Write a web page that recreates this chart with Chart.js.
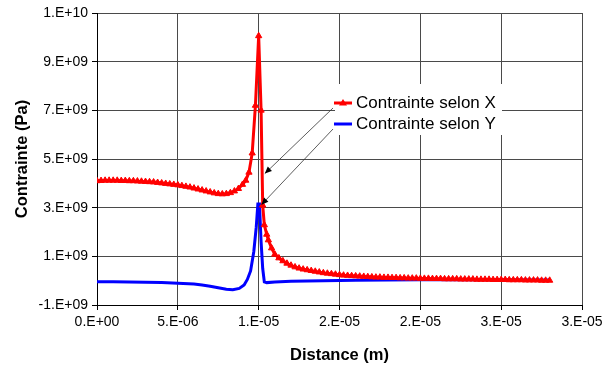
<!DOCTYPE html>
<html>
<head>
<meta charset="utf-8">
<script src="https://cdn.jsdelivr.net/npm/chart.js@4/dist/chart.umd.min.js"></script>
<style>
html,body{margin:0;padding:0;background:#fff;}
#wrap{width:616px;height:369px;}
</style>
</head>
<body>
<div id="wrap"><canvas id="c" width="616" height="369"></canvas></div>
<script>
// ---- Data (distance in micrometres, stress in GPa) ----
const distanceX_um = [0,0.25,0.5,0.75,1,1.25,1.5,1.75,2,2.25,2.5,2.75,3,3.25,3.5,3.75,4,4.25,4.5,4.75,5,5.25,5.5,5.75,6,6.25,6.5,6.75,7,7.25,7.5,7.75,8,8.25,8.5,8.75,9,9.2,9.4,9.6,9.8,10,10.15,10.25,10.35,10.5,10.6,10.8,11,11.25,11.5,11.75,12,12.25,12.5,12.75,13,13.25,13.5,13.75,14,14.25,14.5,14.75,15,15.25,15.5,15.75,16,16.25,16.5,16.75,17,17.25,17.5,17.75,18,18.25,18.5,18.75,19,19.25,19.5,19.75,20,20.25,20.5,20.75,21,21.25,21.5,21.75,22,22.25,22.5,22.75,23,23.25,23.5,23.75,24,24.25,24.5,24.75,25,25.25,25.5,25.75,26,26.25,26.5,26.75,27,27.25,27.5,27.75,28];
const contrainteX_GPa = [4.10,4.11,4.12,4.12,4.12,4.12,4.11,4.11,4.10,4.10,4.09,4.08,4.07,4.06,4.05,4.03,4.01,3.99,3.97,3.95,3.93,3.90,3.87,3.84,3.80,3.76,3.72,3.68,3.64,3.60,3.57,3.56,3.57,3.61,3.68,3.78,3.95,4.12,4.45,5.24,7.20,10.06,7.00,3.10,2.29,1.90,1.67,1.34,1.08,0.93,0.81,0.71,0.63,0.56,0.51,0.47,0.44,0.41,0.38,0.35,0.32,0.30,0.28,0.26,0.24,0.22,0.21,0.20,0.19,0.18,0.17,0.16,0.15,0.14,0.14,0.13,0.13,0.12,0.12,0.11,0.11,0.10,0.10,0.10,0.09,0.09,0.09,0.08,0.08,0.08,0.07,0.07,0.07,0.07,0.06,0.06,0.06,0.06,0.05,0.05,0.05,0.05,0.04,0.04,0.04,0.04,0.03,0.03,0.03,0.03,0.02,0.02,0.02,0.02,0.01,0.01,0.01];

const distanceY_um = [0,1,2,3,4,5,6,6.5,7,7.5,8,8.4,8.8,9.1,9.3,9.5,9.7,9.85,9.95,10.05,10.15,10.25,10.35,10.5,11,12,14,16,18,20,24,28];
const contrainteY_GPa = [-0.04,-0.04,-0.05,-0.06,-0.08,-0.11,-0.14,-0.18,-0.23,-0.29,-0.35,-0.37,-0.32,-0.18,0.05,0.40,1.20,2.20,3.15,3.15,1.60,0.50,-0.05,-0.08,-0.05,-0.02,0.00,0.02,0.03,0.04,0.04,0.03];

const seriesNames = ['Contrainte selon X','Contrainte selon Y'];

// axis ticks
const xTickValues = [0,5e-6,1e-5,1.5e-5,2e-5,2.5e-5,3e-5];
const xTickLabels = ['0.E+00','5.E-06','1.E-05','2.E-05','2.E-05','3.E-05','3.E-05'];
const yTickValues = [-1e9,1e9,3e9,5e9,7e9,9e9,1.1e10];
const yTickLabels = ['-1.E+09','1.E+09','3.E+09','5.E+09','7.E+09','9.E+09','1.E+10'];

// annotation arrows: target points (um, GPa)
const arrowTargetX_um = [10.38,10.17];
const arrowTargetY_GPa = [4.40,3.12];

const FONT = '"Liberation Sans", Arial, sans-serif';

const legendArrowPlugin = {
  id:'legendArrows',
  afterDatasetsDraw(chart){
    const ctx = chart.ctx;
    const xs = chart.scales.x, ys = chart.scales.y;
    // legend box
    const lx = 335, ly = 84, lw = 167, lh = 51;
    ctx.save();
    ctx.fillStyle = '#fff';
    ctx.fillRect(lx, ly, lw, lh);
    const rows = [103, 124];
    const colors = ['#ff0000','#0000ff'];
    ctx.font = '17px ' + FONT;
    ctx.textBaseline = 'middle';
    rows.forEach((y,i)=>{
      ctx.strokeStyle = colors[i];
      ctx.lineWidth = 3;
      ctx.beginPath(); ctx.moveTo(334,y); ctx.lineTo(352,y); ctx.stroke();
      if(i===0){
        ctx.fillStyle = colors[i];
        ctx.beginPath(); ctx.moveTo(343,y-4); ctx.lineTo(347,y+2.5); ctx.lineTo(339,y+2.5); ctx.closePath(); ctx.fill();
      }
      ctx.fillStyle = '#000';
      ctx.fillText(seriesNames[i], 356, y+0.5);
    });
    // arrows
    const starts = [[333,108],[333,129]];
    ctx.strokeStyle = '#333';
    ctx.fillStyle = '#000';
    ctx.lineWidth = 0.8;
    starts.forEach((s,i)=>{
      const tx = xs.getPixelForValue(arrowTargetX_um[i]*1e-6);
      const ty = ys.getPixelForValue(arrowTargetY_GPa[i]*1e9);
      ctx.beginPath(); ctx.moveTo(s[0],s[1]); ctx.lineTo(tx,ty); ctx.stroke();
      const a = Math.atan2(ty-s[1], tx-s[0]);
      const L = 7, W = 3;
      ctx.beginPath();
      ctx.moveTo(tx,ty);
      ctx.lineTo(tx - L*Math.cos(a) + W*Math.sin(a), ty - L*Math.sin(a) - W*Math.cos(a));
      ctx.lineTo(tx - L*Math.cos(a) - W*Math.sin(a), ty - L*Math.sin(a) + W*Math.cos(a));
      ctx.closePath(); ctx.fill();
    });
    ctx.restore();
  }
};

const gridColor = '#4a4a4a';

new Chart(document.getElementById('c'), {
  type:'line',
  data:{
    datasets:[
      {
        label: seriesNames[0],
        data: distanceX_um.map((d,i)=>({x:d*1e-6, y:contrainteX_GPa[i]*1e9})),
        borderColor:'#ff0000', backgroundColor:'#ff0000',
        borderWidth:3, pointStyle:'triangle', pointRadius:3.6,
        pointBorderWidth:1, pointBorderColor:'#ff0000', pointBackgroundColor:'#ff0000',
        tension:0, fill:false, order:1
      },
      {
        label: seriesNames[1],
        data: distanceY_um.map((d,i)=>({x:d*1e-6, y:contrainteY_GPa[i]*1e9})),
        borderColor:'#0000ff', backgroundColor:'#0000ff',
        borderWidth:3, pointRadius:0, tension:0, fill:false, order:2
      }
    ]
  },
  options:{
    responsive:false, animation:false, devicePixelRatio:1,
    layout:{padding:{left:0, right:34, top:13, bottom:0}},
    plugins:{legend:{display:false}, tooltip:{enabled:false}},
    scales:{
      x:{
        type:'linear', min:0, max:3e-5,
        afterBuildTicks(s){ s.ticks = xTickValues.map(v=>({value:v})); },
        afterFit(s){ s.height = 64; },
        ticks:{ autoSkip:false, maxRotation:0, padding:4, color:'#000',
          font:{family:FONT, size:14},
          callback:(v,i)=>xTickLabels[i] },
        grid:{ color:gridColor, lineWidth:1, tickLength:5, tickColor:'#000' },
        border:{ color:'#000', width:1 },
        title:{ display:true, text:'Distance (m)', color:'#000',
          font:{family:FONT, size:16.5, weight:'bold'}, padding:{top:0,bottom:4} }
      },
      y:{
        type:'linear', min:-1e9, max:1.1e10,
        afterBuildTicks(s){ s.ticks = yTickValues.map(v=>({value:v})); },
        afterFit(s){ s.width = 97; },
        ticks:{ autoSkip:false, padding:4, color:'#000',
          font:{family:FONT, size:14},
          callback:(v,i)=>yTickLabels[i] },
        grid:{ color:gridColor, lineWidth:1, tickLength:5, tickColor:'#000' },
        border:{ color:'#000', width:1 },
        title:{ display:true, text:'Contrainte (Pa)', color:'#000',
          font:{family:FONT, size:16.5, weight:'bold'}, padding:{top:13,bottom:0} }
      }
    }
  },
  plugins:[legendArrowPlugin]
});
</script>
</body>
</html>
